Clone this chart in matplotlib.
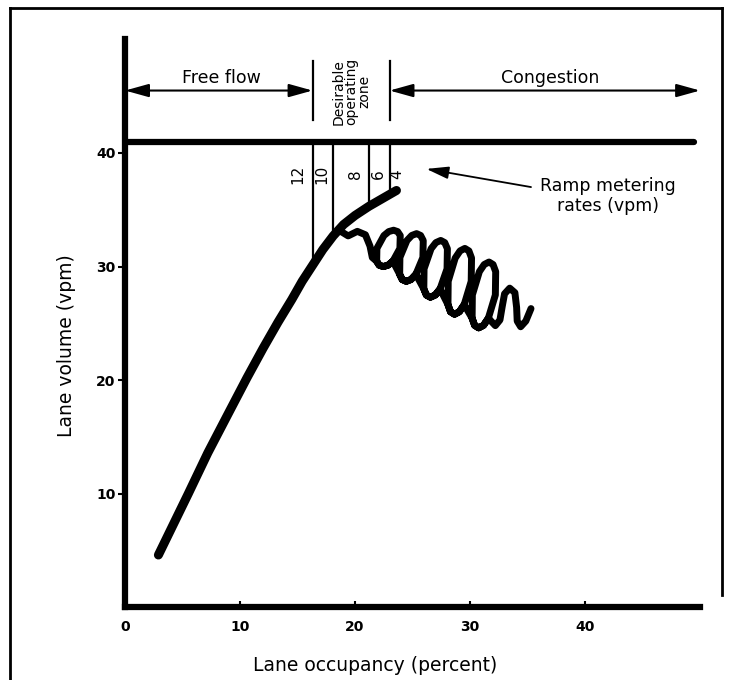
import matplotlib.pyplot as plt
from matplotlib.lines import Line2D
import numpy as np

plt.rcParams['font.family'] = ['DejaVu Sans']

# main volume / occupancy curve
curve_occ = [2.9, 5.5, 7.2, 9.0, 10.6, 12.0, 13.3, 14.5, 15.4, 16.3, 17.2,
             18.1, 19.0, 20.0, 21.2, 22.4, 23.6]
curve_vol = [4.6, 10.0, 13.6, 17.1, 20.2, 22.8, 25.1, 27.1, 28.7, 30.1, 31.5,
             32.7, 33.7, 34.5, 35.3, 36.0, 36.7]

# congested data, traced by hand off the squiggle (tail, five loops, end hook)
coil_occ = [18.6, 19.4, 20.2, 20.9, 21.3, 21.5,
            21.88, 22.1, 22.45, 22.87, 23.29, 23.9, 23.93, 23.7, 23.35, 22.93,
            22.51, 21.9, 21.88, 22.1, 22.45, 22.87, 23.29,
            23.88, 24.1, 24.45, 24.87, 25.29, 25.9, 25.93, 25.7, 25.35, 24.93,
            24.51, 23.9, 23.88, 24.1, 24.45, 24.87, 25.29,
            25.98, 26.2, 26.55, 26.97, 27.39, 28.0, 28.03, 27.8, 27.45, 27.03,
            26.61, 26.0, 25.98, 26.2, 26.55, 26.97, 27.39,
            28.08, 28.3, 28.65, 29.07, 29.49, 30.1, 30.13, 29.9, 29.55, 29.13,
            28.71, 28.1, 28.08, 28.3, 28.65, 29.07, 29.49,
            30.18, 30.4, 30.75, 31.17, 31.59, 32.2, 32.23, 32.0, 31.65, 31.23,
            30.81, 30.2, 30.18, 30.4, 30.75, 31.17, 31.59,
            32.2, 32.6, 32.8, 33.0, 33.45, 33.9, 34.05, 34.1, 34.4, 34.85, 35.3]
coil_vol = [33.2, 32.7, 33.1, 32.8, 31.8, 30.8,
            30.47, 30.12, 30.0, 30.12, 30.47, 31.6, 32.73, 33.08, 33.2, 33.08,
            32.73, 31.6, 30.47, 30.12, 30.0, 30.12, 30.47,
            29.32, 28.86, 28.7, 28.86, 29.32, 30.8, 32.29, 32.74, 32.9, 32.74,
            32.29, 30.8, 29.32, 28.86, 28.7, 28.86, 29.32,
            28.03, 27.49, 27.3, 27.49, 28.03, 29.8, 31.57, 32.11, 32.3, 32.11,
            31.57, 29.8, 28.03, 27.49, 27.3, 27.49, 28.03,
            26.65, 26.02, 25.8, 26.02, 26.65, 28.7, 30.75, 31.38, 31.6, 31.38,
            30.75, 28.7, 26.65, 26.02, 25.8, 26.02, 26.65,
            25.45, 24.82, 24.6, 24.82, 25.45, 27.5, 29.55, 30.18, 30.4, 30.18,
            29.55, 27.5, 25.45, 24.82, 24.6, 24.82, 25.45,
            24.8, 25.3, 26.5, 27.6, 28.1, 27.7, 26.4, 25.2, 24.7, 25.2, 26.3]

capacity = 41
capacity_end = 49.5
rate_occ = [16.3, 18.1, 21.2, 23.0]
rate_labels = ['12', '10', '8', '6', '4']
rate_label_occ = [15.0, 17.1, 20.0, 22.0, 23.6]

zone_left, zone_right = 16.3, 23.0
occ_max = 50

fig = plt.figure(figsize=(7.4, 6.8), dpi=100)
ax = fig.add_axes([0.169, 0.107, 0.777, 0.835])
ax.set_xlim(0, 50)
ax.set_ylim(0, 50)

# page frame
for xs, ys in [([0.0135, 0.0135], [0, 0.988]),
               ([0.0135, 0.976], [0.988, 0.988]),
               ([0.976, 0.976], [0.988, 0.125])]:
    fig.add_artist(Line2D(xs, ys, transform=fig.transFigure, color='k', lw=2))

ax.plot(curve_occ, curve_vol, color='k', lw=6.5, solid_capstyle='round',
        solid_joinstyle='round')
ax.plot(coil_occ, coil_vol, color='k', lw=5.0, solid_joinstyle='round',
        solid_capstyle='round')

ax.plot([0, capacity_end], [capacity, capacity], color='k', lw=4.5,
        solid_capstyle='round')
bottoms = np.interp(rate_occ, curve_occ, curve_vol)
for x, b in zip(rate_occ, bottoms):
    ax.plot([x, x], [b, capacity], color='k', lw=1.6)
for lab, x in zip(rate_labels, rate_label_occ):
    ax.text(x, 38.1, lab, rotation=90, ha='center', va='center',
            fontsize=11)

# zone markers above the chart
for x in [zone_left, zone_right]:
    ax.plot([x, x], [42.9, 48.1], color='k', lw=1.6)
arrow = dict(arrowstyle='<|-|>,head_length=0.9,head_width=0.25', color='k',
             lw=1.5, mutation_scale=16, shrinkA=0, shrinkB=0)
ax.annotate('', xy=(0, 45.5), xytext=(zone_left, 45.5), arrowprops=arrow)
ax.annotate('', xy=(zone_right, 45.5), xytext=(occ_max, 45.5),
            arrowprops=arrow)
ax.text(8.4, 46.6, 'Free flow', ha='center', va='center', fontsize=12.5)
ax.text(37, 46.6, 'Congestion', ha='center', va='center', fontsize=12.5)
ax.text(19.65, 45.4, 'Desirable\noperating\nzone', rotation=90,
        ha='center', va='center', multialignment='center', fontsize=10,
        linespacing=0.9)

ax.text(42, 36.2, 'Ramp metering\nrates (vpm)', ha='center', va='center',
        multialignment='center', fontsize=12.5, linespacing=1.1)
ax.annotate('', xy=(26.2, 38.6), xytext=(35.3, 37.0),
            arrowprops=dict(arrowstyle='-|>,head_length=0.9,head_width=0.25',
                            color='k', lw=1.3, mutation_scale=15,
                            shrinkA=0, shrinkB=0))

ax.spines[['top', 'right']].set_visible(False)
for s in ['left', 'bottom']:
    ax.spines[s].set_linewidth(4.5)
    ax.spines[s].set_capstyle('projecting')

ax.set_xticks([0, 10, 20, 30, 40])
ax.set_yticks([10, 20, 30, 40])
ax.tick_params(axis='y', direction='out', length=5, width=1.5, pad=2,
               labelsize=10)
ax.tick_params(axis='x', direction='in', length=4, width=1.5, pad=9,
               labelsize=10)
for lbl in ax.get_xticklabels() + ax.get_yticklabels():
    lbl.set_fontweight('bold')

ax.set_xlabel('Lane occupancy (percent)', fontsize=13.5)
ax.set_ylabel('Lane volume (vpm)', fontsize=13.5)
ax.xaxis.set_label_coords(0.435, -0.085)
ax.yaxis.set_label_coords(-0.085, 0.46)

fig.savefig('out.png', dpi=100)
